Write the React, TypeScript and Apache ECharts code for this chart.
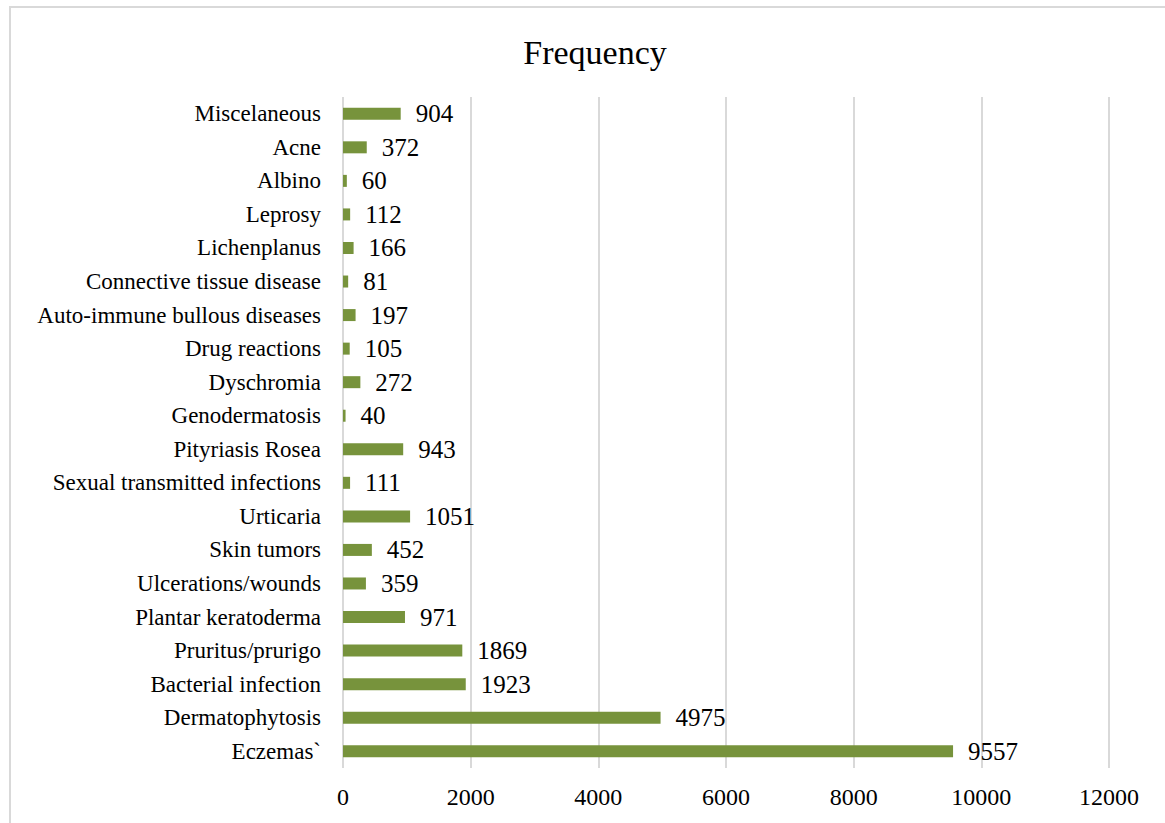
import React, { useEffect, useRef } from "react";
import * as echarts from "echarts";

const categories = [
  "Eczemas`",
  "Dermatophytosis",
  "Bacterial infection",
  "Pruritus/prurigo",
  "Plantar keratoderma",
  "Ulcerations/wounds",
  "Skin tumors",
  "Urticaria",
  "Sexual transmitted infections",
  "Pityriasis Rosea",
  "Genodermatosis",
  "Dyschromia",
  "Drug reactions",
  "Auto-immune bullous diseases",
  "Connective tissue disease",
  "Lichenplanus",
  "Leprosy",
  "Albino",
  "Acne",
  "Miscelaneous",
];
const values = [9557, 4975, 1923, 1869, 971, 359, 452, 1051, 111, 943, 40, 272, 105, 197, 81, 166, 112, 60, 372, 904];
const title = "Frequency";

export default function App() {
  const ref = useRef<HTMLDivElement>(null);
  useEffect(() => {
    if (!ref.current) return;
    const chart = echarts.init(ref.current, null, { renderer: "svg" });
    chart.setOption({
      animation: false,
      backgroundColor: "#ffffff",
      title: {
        text: title,
        left: 590,
        textAlign: "center",
        top: 30,
        textStyle: { fontFamily: "Liberation Serif", fontSize: 34, fontWeight: "normal", color: "#000" },
      },
      graphic: [
        {
          type: "rect",
          shape: { x: 10, y: 7, width: 1180, height: 840 },
          style: { fill: "none", stroke: "#d9d9d9", lineWidth: 2 },
          silent: true,
        },
      ],
      grid: { left: 343, right: 56, top: 97, bottom: 55, containLabel: false },
      xAxis: {
        type: "value",
        min: 0,
        max: 12000,
        interval: 2000,
        axisLine: { show: false },
        axisTick: { show: false },
        axisLabel: {
          fontFamily: "Liberation Serif",
          fontSize: 24,
          color: "#000",
          margin: 17,
          formatter: (v: number) => String(v),
        },
        splitLine: { show: true, lineStyle: { color: "#d9d9d9", width: 2 } },
      },
      yAxis: {
        type: "category",
        data: categories,
        axisLine: { show: false },
        axisTick: { show: false },
        axisLabel: { fontFamily: "Liberation Serif", fontSize: 23, color: "#000", margin: 22 },
      },
      series: [
        {
          type: "bar",
          data: values,
          barWidth: 12,
          itemStyle: { color: "#77933C" },
          label: {
            show: true,
            position: "right",
            distance: 15,
            fontFamily: "Liberation Serif",
            fontSize: 25,
            color: "#000",
          },
        },
      ],
    });
    return () => chart.dispose();
  }, []);
  return (
    <div
      ref={ref}
      style={{ position: "absolute", left: 0, top: 0, width: 1165, height: 823 }}
    />
  );
}
